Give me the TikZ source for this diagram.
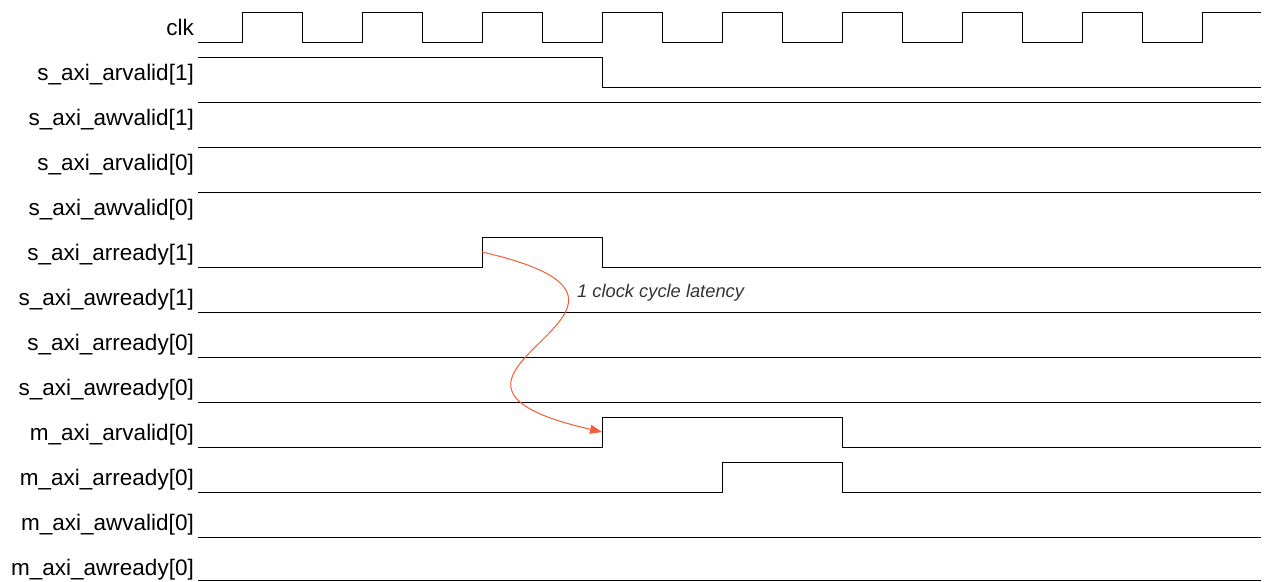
\documentclass[tikz,border=0pt]{standalone}
\usepackage{fontspec}
\setmainfont{Liberation Sans}
\usetikzlibrary{arrows.meta}
\definecolor{arrowc}{RGB}{242,92,55}
\definecolor{notec}{RGB}{51,51,51}
\begin{document}
\begin{tikzpicture}[x=1pt,y=-1pt,
  wave/.style={line width=1pt, black},
  lbl/.style={anchor=base east, inner sep=0pt, font=\fontsize{22.5}{27}\selectfont},
  note/.style={anchor=base west, inner sep=0pt, text=notec, font=\fontsize{18.3}{22}\selectfont\itshape},
  latarrow/.style={draw=arrowc, line width=1pt, -{Triangle[length=12pt,width=9pt]}}]
\useasboundingbox (0,0) rectangle (1266,581);
% labels
\node[lbl] (l0)  at (194,35)  {clk};
\node[lbl] (l1)  at (194,80)  {s\_axi\_arvalid[1]};
\node[lbl] (l2)  at (194,125) {s\_axi\_awvalid[1]};
\node[lbl] (l3)  at (194,170) {s\_axi\_arvalid[0]};
\node[lbl] (l4)  at (194,215) {s\_axi\_awvalid[0]};
\node[lbl] (l5)  at (194,260) {s\_axi\_arready[1]};
\node[lbl] (l6)  at (194,305) {s\_axi\_awready[1]};
\node[lbl] (l7)  at (194,350) {s\_axi\_arready[0]};
\node[lbl] (l8)  at (194,395) {s\_axi\_awready[0]};
\node[lbl] (l9)  at (194,440) {m\_axi\_arvalid[0]};
\node[lbl] (l10) at (194,485) {m\_axi\_arready[0]};
\node[lbl] (l11) at (194,530) {m\_axi\_awvalid[0]};
\node[lbl] (l12) at (194,575) {m\_axi\_awready[0]};
% clk
\draw[wave] (198,42) foreach \k in {0,...,7} { -- ({242+120*\k},42) -- ({242+120*\k},12) -- ({302+120*\k},12) -- ({302+120*\k},42) } -- (1202,42) -- (1202,12) -- (1261,12);
% signals
\draw[wave] (198,57) -- (602,57) -- (602,87) -- (1261,87);
\draw[wave] (198,102) -- (1261,102);
\draw[wave] (198,147) -- (1261,147);
\draw[wave] (198,192) -- (1261,192);
\draw[wave] (198,267) -- (482,267) -- (482,237) -- (602,237) -- (602,267) -- (1261,267);
\draw[wave] (198,312) -- (1261,312);
\draw[wave] (198,357) -- (1261,357);
\draw[wave] (198,402) -- (1261,402);
\draw[wave] (198,447) -- (602,447) -- (602,417) -- (842,417) -- (842,447) -- (1261,447);
\draw[wave] (198,492) -- (722,492) -- (722,462) -- (842,462) -- (842,492) -- (1261,492);
\draw[wave] (198,537) -- (1261,537);
\draw[wave] (198,580) -- (1261,580);
% latency arrow
\coordinate (src) at (482,252);
\coordinate (dst) at (602,432);
\draw[latarrow] (src) .. controls (722,307) and (362,377) .. (dst);
\node[note] (lat) at (577,297) {1 clock cycle latency};
\end{tikzpicture}
\end{document}
